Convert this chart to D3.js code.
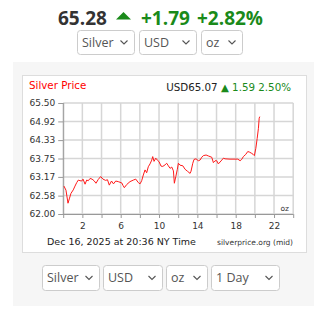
<!DOCTYPE html>
<html>
<head>
<meta charset="utf-8">
<script src="https://cdn.jsdelivr.net/npm/d3@7"></script>
<style>
  body { margin: 0; background: #fff; }
  svg { display: block; }
</style>
</head>
<body>
<svg id="chart" width="320" height="315"></svg>
<script>
// hours since midnight (NY) and silver price
var hours = [0.08, 0.29, 0.50, 0.66, 0.81, 1.05, 1.23, 1.41, 1.58, 1.75, 1.93, 2.07, 2.28, 2.45, 2.62, 2.80,
  3.01, 3.22, 3.42, 3.66, 3.91, 4.15, 4.42, 4.62, 4.81, 5.04, 5.25, 5.48, 5.75, 5.93, 6.11, 6.24, 6.38,
  6.63, 6.97, 7.32, 7.57, 7.84, 8.02, 8.19, 8.36, 8.54, 8.71, 8.88, 9.06, 9.24, 9.34, 9.48, 9.66, 9.82,
  10.0, 10.21, 10.39, 10.63, 10.80, 10.97, 11.15, 11.33, 11.50, 11.60, 11.75, 11.91, 12.02, 12.19, 12.48,
  12.72, 12.96, 13.24, 13.34, 13.52, 13.65, 13.86, 14.10, 14.28, 14.46, 14.62, 14.91, 15.15, 15.32, 15.50,
  15.67, 15.85, 16.02, 16.19, 16.37, 16.55, 16.71, 16.89, 17.41, 18.22, 18.46, 18.62, 18.80, 19.05, 19.26,
  19.45, 19.68, 19.82, 19.95, 20.10, 20.24, 20.37, 20.45, 20.51];
var prices = [62.88, 62.75, 62.34, 62.50, 62.65, 62.76, 62.88, 62.99, 63.07, 63.05, 63.04, 63.10, 62.94, 63.07, 63.05, 63.12,
  63.10, 63.05, 62.97, 63.09, 63.18, 63.10, 63.06, 63.08, 62.91, 63.04, 62.95, 63.04, 63.02, 63.00, 62.98, 62.90, 62.83,
  62.93, 63.02, 63.07, 63.10, 62.99, 62.95, 63.05, 63.23, 63.39, 63.30, 63.49, 63.58, 63.70, 63.81, 63.66, 63.76, 63.70,
  63.65, 63.51, 63.50, 63.55, 63.60, 63.52, 63.44, 63.48, 63.36, 62.97, 63.18, 63.41, 63.60, 63.54, 63.52,
  63.41, 63.35, 63.28, 63.35, 63.60, 63.72, 63.74, 63.68, 63.70, 63.79, 63.84, 63.86, 63.83, 63.81, 63.79,
  63.62, 63.68, 63.68, 63.58, 63.64, 63.70, 63.76, 63.74, 63.73, 63.73, 63.68, 63.72, 63.81, 63.88, 63.97,
  63.95, 63.91, 63.88, 63.84, 64.07, 64.38, 64.70, 65.02, 65.07];

var yTickLabels = ["62.00", "62.58", "63.17", "63.75", "64.33", "64.92", "65.50"];
var xGridHours = [0, 2, 4, 6, 8, 10, 12, 14, 16, 18, 20, 22, 24];
var xTickLabels = [2, 6, 10, 14, 18, 22];

var headerPrice = "65.28", headerChange = "+1.79", headerPct = "+2.82%";
var chartQuote = "USD65.07", chartChange = "1.59", chartPct = "2.50%";
var topSelects = ["Silver", "USD", "oz"];
var bottomSelects = ["Silver", "USD", "oz", "1 Day"];

var svg = d3.select("#chart");
var green = "#1a8a1a";
var sans = "'Open Sans', sans-serif";
var verd = "'DejaVu Sans', Verdana, sans-serif";

// ---- header ----
var hdr = svg.append("g");
hdr.append("text").attr("x", 58).attr("y", 25)
  .attr("font-family", sans).attr("font-weight", 700).attr("font-size", 19)
  .attr("fill", "#333").text(headerPrice);
hdr.append("path").attr("d", "M116,19.5L123.5,12L131,19.5Z").attr("fill", green);
hdr.append("text").attr("x", 141).attr("y", 25)
  .attr("font-family", sans).attr("font-weight", 700).attr("font-size", 19)
  .attr("fill", green).text(headerChange);
hdr.append("text").attr("x", 197).attr("y", 25)
  .attr("font-family", sans).attr("font-weight", 700).attr("font-size", 19)
  .attr("fill", green).text(headerPct);

// dropdown boxes
function drawSelects(g, labels, xs, y, h) {
  labels.forEach(function(lab, i) {
    var x0 = xs[i][0], x1 = xs[i][1];
    g.append("rect").attr("x", x0 + 0.5).attr("y", y + 0.5)
      .attr("width", x1 - x0).attr("height", h).attr("rx", 3)
      .attr("fill", "#fff").attr("stroke", "#ccc");
    g.append("text").attr("x", x0 + 5).attr("y", y + h / 2 + 4.5)
      .attr("font-family", sans).attr("font-size", 12.5).attr("fill", "#555").text(lab);
    var cx = x1 - 10, cy = y + h / 2;
    g.append("path").attr("d", "M" + (cx - 3.5) + "," + (cy - 1.5) + "L" + cx + "," + (cy + 2) + "L" + (cx + 3.5) + "," + (cy - 1.5))
      .attr("fill", "none").attr("stroke", "#555").attr("stroke-width", 1.1);
  });
}
drawSelects(hdr, topSelects, [[77, 134], [139, 196], [201, 242]], 30, 24);

// ---- outer panel + chart card ----
svg.append("rect").attr("x", 13).attr("y", 62).attr("width", 301).attr("height", 244).attr("fill", "#f6f6f6");
svg.append("rect").attr("x", 22.5).attr("y", 75.5).attr("width", 284).attr("height", 177)
  .attr("fill", "#fff").attr("stroke", "#ddd");

var x = d3.scaleLinear().domain([0, 24]).range([63.2, 293.2]);
var y = d3.scaleLinear().domain([62, 65.5]).range([214, 103]);

var plot = svg.append("g");

// grid
plot.append("g").selectAll("line").data(xGridHours).join("line")
  .attr("x1", function(d) { return x(d); }).attr("x2", function(d) { return x(d); })
  .attr("y1", y(62)).attr("y2", y(65.5))
  .attr("stroke", "#d6d6d6").attr("stroke-width", 1.5);
plot.append("g").selectAll("line").data(yTickLabels).join("line")
  .attr("x1", x(0)).attr("x2", x(24))
  .attr("y1", function(d) { return y(+d); }).attr("y2", function(d) { return y(+d); })
  .attr("stroke", "#d6d6d6").attr("stroke-width", 1.5);

// axes
var yAxis = d3.axisLeft(y).tickValues(yTickLabels.map(Number))
  .tickFormat(function(d, i) { return yTickLabels[i]; }).tickSize(5).tickPadding(3);
var gy = plot.append("g").attr("transform", "translate(" + x(0) + ",0)").call(yAxis);
gy.selectAll("text").attr("font-family", verd).attr("font-size", 9).attr("fill", "#333");

var xAxis = d3.axisBottom(x).tickValues(xGridHours)
  .tickFormat(function(d) { return xTickLabels.indexOf(d) >= 0 ? d : ""; }).tickSize(4).tickPadding(5);
var gx = plot.append("g").attr("transform", "translate(0," + y(62) + ")").call(xAxis);
gx.selectAll("text").attr("font-family", verd).attr("font-size", 9).attr("fill", "#333");

[gx, gy].forEach(function(g) {
  g.select(".domain").attr("stroke", "#999");
  g.selectAll(".tick line").attr("stroke", "#999");
});
gx.select(".domain").attr("d", "M" + (x(0) - 1) + ",0.5H" + x(24));
gy.select(".domain").attr("d", "M0.5," + y(62) + "V" + y(65.5));

// price line
var line = d3.line().x(function(d) { return x(d[0]); }).y(function(d) { return y(d[1]); });
plot.append("path").datum(d3.zip(hours, prices))
  .attr("d", line).attr("fill", "none").attr("stroke", "#ff1a1a").attr("stroke-width", 1);

// labels
svg.append("text").attr("x", 29).attr("y", 89).attr("font-family", verd).attr("font-size", 10.3)
  .attr("fill", "#f00").text("Silver Price");
var q = svg.append("text").attr("x", 291).attr("y", 91).attr("text-anchor", "end")
  .attr("font-family", verd).attr("font-size", 10.3);
q.append("tspan").attr("fill", "#222").text(chartQuote + " ");
q.append("tspan").attr("fill", green).text("\u25B2 " + chartChange + " " + chartPct);

svg.append("text").attr("x", 289).attr("y", 211).attr("text-anchor", "end")
  .attr("font-family", verd).attr("font-size", 7.5).attr("fill", "#333").text("oz");
svg.append("text").attr("x", 47).attr("y", 245).attr("font-family", verd).attr("font-size", 9.5)
  .attr("fill", "#222").text("Dec 16, 2025 at 20:36 NY Time");
svg.append("text").attr("x", 293).attr("y", 245).attr("text-anchor", "end")
  .attr("font-family", verd).attr("font-size", 7.5).attr("fill", "#333").text("silverprice.org (mid)");

drawSelects(svg.append("g"), bottomSelects, [[42, 99], [103, 162], [166, 207], [211, 279]], 265, 25);
</script>
</body>
</html>
